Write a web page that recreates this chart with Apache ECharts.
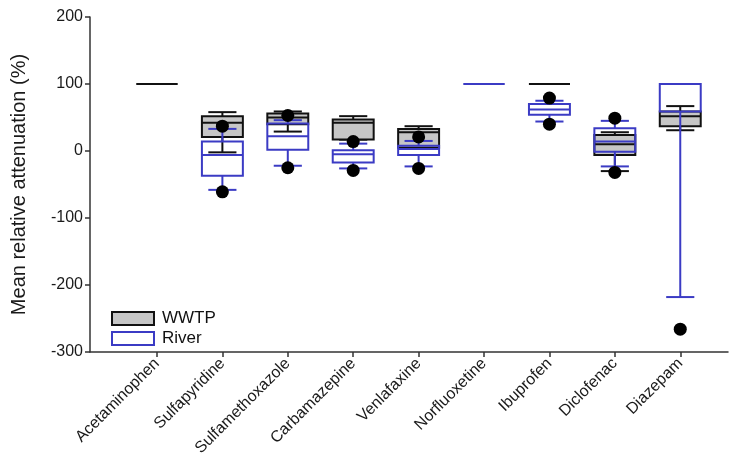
<!DOCTYPE html>
<html>
<head>
<meta charset="utf-8">
<script src="https://cdn.jsdelivr.net/npm/echarts@6/dist/echarts.min.js"></script>
<style>html,body{margin:0;padding:0;background:#fff;}#c{width:738px;height:476px;}</style>
</head>
<body>
<div id="c"></div>
<script>
const categories = ['Acetaminophen','Sulfapyridine','Sulfamethoxazole','Carbamazepine','Venlafaxine','Norfluoxetine','Ibuprofen','Diclofenac','Diazepam'];
const yTicks = [-300, -200, -100, 0, 100, 200];

// WWTP box statistics (null = no data)
const wwtpLow    = [100, -2, 29, 17, 3, null, 100, -30, 31];
const wwtpQ1     = [100, 21, 40, 17, 5, null, 100, -6, 37];
const wwtpMedian = [100, 42, 50, 42, 28, null, 100, 10, 52];
const wwtpQ3     = [100, 52, 56, 47, 33, null, 100, 24, 59];
const wwtpHigh   = [100, 58, 59, 52, 37, null, 100, 28, 67];
const wwtpOutliers = [[7, -32]];

// River box statistics
const riverLow    = [null, -58, -22, -26, -23, 100, 44, -23, -218];
const riverQ1     = [null, -37, 2, -17, -6, 100, 54, -1, 59];
const riverMedian = [null, -6, 22, -5, 3, 100, 62, 14, 100];
const riverQ3     = [null, 14, 41, 1, 8, 100, 70, 34, 100];
const riverHigh   = [null, 33, 46, 11, 15, 100, 75, 45, 100];
const riverOutliers = [[1, 37], [1, -61], [2, 53], [2, -25], [3, 14], [3, -29], [4, 21], [4, -26], [6, 79], [6, 40], [7, 49], [8, -266]];

const WWTP_FILL = '#c6c6c6';
const BLUE = '#3b3bc4';

function buildData(lo, q1, md, q3, hi) {
  const out = [];
  categories.forEach((c, i) => {
    if (q1[i] !== null) out.push([i, lo[i], q1[i], md[i], q3[i], hi[i]]);
  });
  return out;
}

function makeRender(stroke, fill) {
  return function (params, api) {
    const i = api.value(0);
    const lo = api.value(1), q1 = api.value(2), md = api.value(3), q3 = api.value(4), hi = api.value(5);
    const unit = api.size([1, 0])[0];
    const hw = unit * 0.313;
    const cw = unit * 0.215;
    const pLo = api.coord([i, lo]), pQ1 = api.coord([i, q1]), pMd = api.coord([i, md]), pQ3 = api.coord([i, q3]), pHi = api.coord([i, hi]);
    const x = pQ1[0];
    const ls = { stroke: stroke, lineWidth: 2, fill: null };
    const children = [];
    children.push({ type: 'line', shape: { x1: x, y1: pQ3[1], x2: x, y2: pHi[1] }, style: ls });
    children.push({ type: 'line', shape: { x1: x, y1: pQ1[1], x2: x, y2: pLo[1] }, style: ls });
    children.push({ type: 'line', shape: { x1: x - cw, y1: pHi[1], x2: x + cw, y2: pHi[1] }, style: ls });
    children.push({ type: 'line', shape: { x1: x - cw, y1: pLo[1], x2: x + cw, y2: pLo[1] }, style: ls });
    children.push({ type: 'rect', shape: { x: x - hw, y: pQ3[1], width: 2 * hw, height: pQ1[1] - pQ3[1] },
      style: { stroke: stroke, lineWidth: 2, fill: fill } });
    children.push({ type: 'line', shape: { x1: x - hw, y1: pMd[1], x2: x + hw, y2: pMd[1] }, style: ls });
    return { type: 'group', children: children };
  };
}

const chart = echarts.init(document.getElementById('c'), null, { renderer: 'canvas' });
const option = {
  animation: false,
  backgroundColor: '#fff',
  textStyle: { fontFamily: 'Liberation Sans, Arial, sans-serif' },
  grid: { left: 90, right: 10, top: 17, bottom: 124, containLabel: false },
  legend: {
    orient: 'vertical', left: 106, top: 305,
    itemWidth: 42, itemHeight: 13, itemGap: 3,
    textStyle: { fontSize: 17, color: '#111', fontFamily: 'Liberation Sans, Arial, sans-serif', padding: [0, 0, 0, 3] },
    data: [
      { name: 'WWTP', icon: 'rect', itemStyle: { color: WWTP_FILL, borderColor: '#111', borderWidth: 2 } },
      { name: 'River', icon: 'rect', itemStyle: { color: '#fff', borderColor: BLUE, borderWidth: 2 } }
    ]
  },
  xAxis: {
    type: 'value', min: -1.024, max: 8.73,
    splitLine: { show: false },
    axisLine: { show: true, onZero: false, lineStyle: { color: '#333', width: 1.5 } },
    axisTick: { show: true, customValues: categories.map((c, i) => i), length: 5, lineStyle: { color: '#333', width: 1.5 } },
    axisLabel: {
      customValues: categories.map((c, i) => i),
      formatter: v => categories[Math.round(v)] || '',
      rotate: 45, fontSize: 16, color: '#1a1a1a', margin: 9
    }
  },
  yAxis: {
    type: 'value', min: yTicks[0], max: yTicks[yTicks.length - 1], interval: 100,
    name: 'Mean relative attenuation (%)', nameLocation: 'middle', nameGap: 61,
    nameTextStyle: { fontSize: 20, color: '#1a1a1a' },
    splitLine: { show: false },
    axisLine: { show: true, onZero: false, lineStyle: { color: '#333', width: 1.5 } },
    axisTick: { show: true, length: 5, lineStyle: { color: '#333', width: 1.5 } },
    axisLabel: { fontSize: 16, color: '#1a1a1a', margin: 7 }
  },
  series: [
    { name: 'WWTP', type: 'custom', renderItem: makeRender('#111', WWTP_FILL), itemStyle: { color: WWTP_FILL },
      encode: { x: 0, y: [1, 2, 3, 4, 5] }, data: buildData(wwtpLow, wwtpQ1, wwtpMedian, wwtpQ3, wwtpHigh), z: 2 },
    { name: 'River', type: 'custom', renderItem: makeRender(BLUE, null), itemStyle: { color: BLUE },
      encode: { x: 0, y: [1, 2, 3, 4, 5] }, data: buildData(riverLow, riverQ1, riverMedian, riverQ3, riverHigh), z: 3 },
    { name: 'outliers', type: 'scatter', symbol: 'circle', symbolSize: 13, itemStyle: { color: '#000', opacity: 1 },
      data: wwtpOutliers.concat(riverOutliers), z: 4 }
  ]
};
chart.setOption(option);
</script>
</body>
</html>
